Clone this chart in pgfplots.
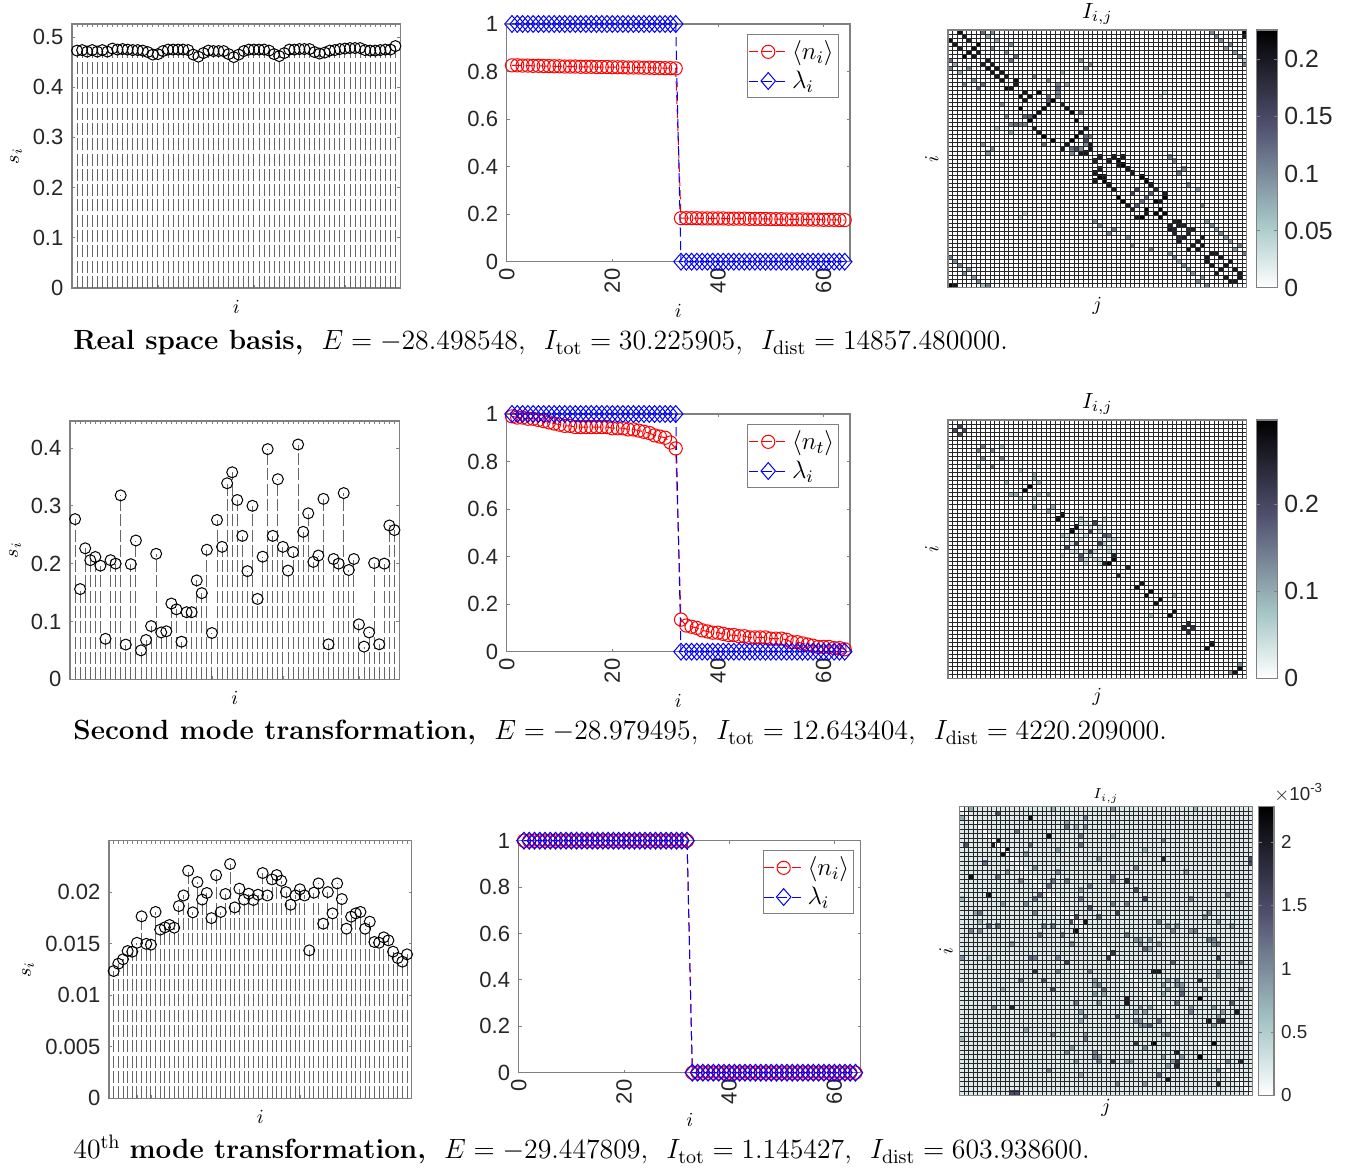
\documentclass[border=0pt]{standalone}
\usepackage{fix-cm}
\usepackage[no-math]{fontspec}
\usepackage{pgfplots}
\usepackage{pgfplotstable}
\pgfplotsset{compat=1.18}
\newfontfamily\hv{Liberation Sans}
\definecolor{axg}{gray}{0.5}
\definecolor{tkl}{gray}{0.15}
\definecolor{stemg}{gray}{0.4}
\pgfplotsset{
 colormap={bonerev}{rgb(0pt)=(1,1,1); rgb(2pt)=(.65,.78,.78); rgb(5pt)=(.32,.32,.44); rgb(8pt)=(0,0,0)},
 base/.style={scale only axis, clip=false, axis line style={axg,line width=.55pt},
   tick align=inside, major tick length=1.5pt, tick style={axg,line width=.4pt},
   tick label style={font=\hv\fontsize{11}{13}\selectfont,text=tkl},
   yticklabel style={xshift=-.8pt},
   scaled y ticks=false,
   label style={font=\fontsize{11}{13}\selectfont}},
 stem/.style={base, xmin=0,xmax=65,ymin=0, xtick={1,...,64}, xticklabels={},
   every axis x label/.style={at={(axis description cs:.5,-.072)},anchor=center},
   xlabel={$i$}, ylabel={$s_i$}},
 stemline/.style={ycomb, stemg, line width=.45pt, dash pattern=on 6pt off 1.65pt,
   mark=o, mark size=2.75pt, mark options={solid,black,line width=.5pt}},
 mid/.style={base, xmin=0,xmax=65,ymin=0,ymax=1, xtick={0,20,40,60}, xticklabels={0,20,40,60},
   ytick={0,.2,.4,.6,.8,1}, yticklabels={0,0.2,0.4,0.6,0.8,1},
   xticklabel style={rotate=90,anchor=east},
   every axis x label/.style={at={(axis description cs:.5,-.205)},anchor=center},
   xlabel={$i$},
   legend image code/.code={\draw[mark repeat=2,mark phase=2,##1] plot coordinates {(0cm,0cm) (.34cm,0cm) (.68cm,0cm)};},
   legend cell align=left,
   legend style={anchor=north west, draw=axg, line width=.5pt, font=\fontsize{12.6}{14}\selectfont, row sep=0pt, inner xsep=.3pt, inner ysep=1.2pt}},
 redl/.style={red, line width=.5pt, dash pattern=on 4.6pt off 2.2pt, mark=o, mark size=3.3pt, mark options={solid,red,line width=.5pt}},
 bluel/.style={blue, line width=.5pt, dash pattern=on 4.6pt off 2.2pt, mark=diamond, mark size=4.2pt, mark options={solid,blue,line width=.5pt,xscale=1.15}},
 heat/.style={scale only axis, clip=true, clip marker paths=true, y dir=reverse, xmin=.5,xmax=64.5,ymin=.5,ymax=64.5,
   axis on top, axis line style={axg,line width=.55pt},
   xtick={0.5,1.5,...,64.5}, ytick={0.5,1.5,...,64.5}, xticklabels={}, yticklabels={},
   major tick length=0pt, grid=major, grid style={black!85,line width=.28pt},
   colormap name=bonerev, point meta=explicit, colorbar,
   label style={font=\fontsize{11}{13}\selectfont},
   xlabel={$j$}, ylabel={$i$}, title={$I_{i,j}$}},
 cbar/.style={colorbar style={scale only axis, y dir=normal, grid=none, axis on top=true, xtick=\empty,
   width=#1, axis line style={axg,line width=.55pt}, tick align=inside, major tick length=1.5pt, ytick style={axg,line width=.4pt},
   yticklabel pos=right}},
 cellmark/.style={scatter, only marks, mark=square*, scatter/use mapped color={draw=mapped color,fill=mapped color}},
}
\pgfplotstableread{
i j v
1 3 .21
2 4 .2
3 5 .19
4 7 .22
5 6 .21
6 7 .2
8 9 .19
9 10 .2
10 11 .2
11 12 .2
12 13 .2
13 15 .21
14 15 .2
16 17 .2
17 18 .2
16 20 .225
18 23 .225
19 22 .21
20 21 .21
19 25 .19
20 26 .2
21 27 .225
23 28 .215
25 30 .19
26 29 .2
27 28 .225
28 30 .15
29 31 .2
30 31 .2
17 22 .12
15 24 .12
27 30 .12
27 31 .1
29 30 .1
17 24 .1
18 22 .13
16 24 .1
14 24 .1
21 29 .12
8 29 .09
9 31 .09
10 30 .09
32 33 .19
32 36 .2
32 38 .2
33 37 .22
34 37 .2
34 38 .225
33 35 .19
35 39 .2
36 40 .2
37 42 .225
38 43 .225
39 44 .2
40 45 .18
41 47 .2
42 47 .225
43 45 .22
45 46 .22
46 47 .22
41 44 .13
42 43 .12
40 41 .15
43 46 .2
48 49 .19
48 50 .2
49 51 .19
50 53 .19
49 50 .19
51 52 .19
52 55 .2
53 54 .19
54 55 .2
50 52 .18
56 57 .2
56 58 .2
57 59 .2
58 61 .2
59 60 .2
60 62 .2
61 63 .2
62 63 .2
1 64 .225
2 64 .2
1 57 .1
2 58 .1
3 59 .1
5 60 .09
4 61 .1
6 62 .09
7 63 .1
9 64 .11
8 64 .06
1 8 .12
1 10 .1
2 9 .08
3 11 .08
4 14 .1
5 10 .1
6 13 .1
7 15 .12
8 14 .12
11 25 .06
12 19 .1
13 22 .1
14 26 .08
32 48 .1
33 49 .1
36 50 .11
35 51 .1
39 52 .1
40 54 .09
44 55 .1
48 56 .09
49 57 .1
51 59 .1
52 60 .09
53 61 .09
55 62 .09
54 63 .1
56 64 .11
50 58 .08
16 47 .04
17 46 .04
}\heatA
\pgfplotstableread{
i j v
2 3 .2
3 4 .2
7 8 .14
8 10 .13
10 12 .14
7 12 .08
13 16 .08
14 19 .09
15 19 .09
16 20 .09
17 18 .28
19 20 .08
19 22 .12
22 23 .1
24 25 .28
27 28 .28
26 32 .2
28 31 .2
31 33 .2
29 34 .17
29 35 .15
25 29 .08
35 36 .29
34 36 .25
37 39 .24
41 42 .27
43 44 .28
45 46 .27
48 49 .27
51 52 .24
52 53 .22
56 57 .27
62 63 .27
61 63 .12
44 49 .08
30 33 .05
30 36 .05
31 34 .06
27 33 .04
28 33 .05
25 34 .05
26 29 .04
28 29 .03
32 33 .05
32 35 .05
33 36 .04
27 31 .04
33 35 .05
30 35 .05
29 30 .05
26 30 .04
}\heatB
\pgfplotstableread{
i j v
3 16 2.1
9 16 1.2
2 9 1.4
8 9 2
7 20 2.1
10 11 2.1
20 18 1.3
26 28 2.1
25 26 1.5
24 35 1.6
33 34 1.7
17 37 1.8
22 37 1.5
37 43 2
37 44 2
32 41 1.3
34 57 1.7
35 47 1.3
39 53 1.7
19 39 1.4
21 41 1.5
43 53 2.25
12 45 1.9
48 55 2
48 58 1.9
46 61 2
53 56 2.25
48 57 1.7
57 62 1.9
12 64 1.5
13 64 1.5
44 60 1.3
42 49 1.3
44 48 1.2
29 23 1.2
18 29 1.3
23 29 1.4
25 31 1.3
29 37 1.3
17 24 1.2
5 24 1
9 27 1.2
7 27 .9
3 28 1.1
6 13 1.2
16 34 1.2
17 34 1.1
22 34 1.1
22 37 1.1
1 34 1
14 39 1.1
8 45 1.1
20 59 1.1
24 55 1
26 57 .9
25 54 .9
26 44 1.1
28 52 1.1
28 47 1
29 37 1.1
32 41 1.2
30 55 1.1
30 56 1.1
31 57 1
21 51 1
5 24 1.2
7 27 1.2
9 16 1.2
11 15 .9
15 22 1
14 17 1
17 21 1.1
17 24 1.1
18 20 1.2
18 29 1.1
27 19 1
27 21 1.1
5 28 1
10 22 .9
29 23 1.1
25 31 1.2
12 31 .9
31 25 1
19 27 1
1 3 .8
1 21 .7
1 52 .7
4 24 .8
5 26 .7
7 34 .7
10 41 .7
15 50 .8
19 27 .8
27 48 .8
28 51 .9
27 60 .8
30 40 .8
31 44 .9
40 45 .9
42 45 .8
39 48 .9
40 49 .9
41 46 .9
40 48 .9
41 49 1
39 46 .9
46 51 1.1
45 51 .9
45 56 .9
46 58 .9
49 56 .9
41 54 1
41 62 .9
59 57 1.1
47 57 .9
35 62 1
31 56 .9
27 46 .9
30 39 .9
31 40 1
32 42 .8
30 42 .9
37 57 .9
38 57 .9
1 1 0
2 2 0
3 3 0
4 4 0
5 5 0
6 6 0
7 7 0
8 8 0
9 9 0
10 10 0
11 11 0
12 12 0
13 13 0
14 14 0
15 15 0
16 16 0
17 17 0
18 18 0
19 19 0
20 20 0
21 21 0
22 22 0
23 23 0
24 24 0
25 25 0
26 26 0
27 27 0
28 28 0
29 29 0
30 30 0
31 31 0
32 32 0
33 33 0
34 34 0
35 35 0
36 36 0
37 37 0
38 38 0
39 39 0
40 40 0
41 41 0
42 42 0
43 43 0
44 44 0
45 45 0
46 46 0
47 47 0
48 48 0
49 49 0
50 50 0
51 51 0
52 52 0
53 53 0
54 54 0
55 55 0
56 56 0
57 57 0
58 58 0
59 59 0
60 60 0
61 61 0
62 62 0
63 63 0
64 64 0
}\heatC
\begin{document}
\begin{tikzpicture}
\useasboundingbox (0,0) rectangle (679.5pt,585.5pt);
% ---------- row 1
\begin{axis}[stem, at={(36pt,441.5pt)}, anchor=south west, width=164.25pt, height=132pt, ymax=.526,
 ytick={0,.1,.2,.3,.4,.5}, yticklabels={0,0.1,0.2,0.3,0.4,0.5},
 every axis y label/.style={at={(axis description cs:-.17,.5)},rotate=90,anchor=center}]
\addplot[stemline] coordinates {(1,.473)(2,.474)(3,.471)(4,.474)(5,.471)(6,.474)(7,.471)(8,.477)(9,.475)(10,.476)(11,.475)(12,.474)(13,.474)(14,.473)(15,.470)(16,.465)(17,.466)(18,.472)(19,.475)(20,.475)(21,.475)(22,.475)(23,.474)(24,.465)(25,.461)(26,.468)(27,.473)(28,.472)(29,.472)(30,.472)(31,.466)(32,.460)(33,.465)(34,.472)(35,.475)(36,.475)(37,.475)(38,.475)(39,.473)(40,.466)(41,.462)(42,.468)(43,.475)(44,.475)(45,.476)(46,.476)(47,.476)(48,.470)(49,.467)(50,.469)(51,.473)(52,.474)(53,.476)(54,.477)(55,.478)(56,.478)(57,.478)(58,.474)(59,.473)(60,.473)(61,.474)(62,.475)(63,.475)(64,.482)};
\end{axis}
\begin{axis}[mid, at={(253.35pt,454.65pt)}, anchor=south west, width=171.65pt, height=118.85pt,
 legend style={at={(.7008,.958)}}]
\addplot[redl] coordinates {(1,.826)(2,.826)(3,.825)(4,.825)(5,.824)(6,.824)(7,.823)(8,.823)(9,.822)(10,.822)(11,.821)(12,.821)(13,.821)(14,.82)(15,.82)(16,.82)(17,.819)(18,.819)(19,.819)(20,.818)(21,.818)(22,.818)(23,.817)(24,.817)(25,.817)(26,.816)(27,.816)(28,.815)(29,.815)(30,.814)(31,.814)(32,.813)(33,.183)(34,.183)(35,.183)(36,.183)(37,.182)(38,.182)(39,.182)(40,.182)(41,.182)(42,.181)(43,.181)(44,.181)(45,.181)(46,.18)(47,.18)(48,.18)(49,.18)(50,.179)(51,.179)(52,.179)(53,.178)(54,.178)(55,.178)(56,.178)(57,.177)(58,.177)(59,.177)(60,.176)(61,.176)(62,.176)(63,.175)(64,.175)};
\addlegendentry{$\langle n_i\rangle$}
\addplot[bluel] coordinates {(1,1)(2,1)(3,1)(4,1)(5,1)(6,1)(7,1)(8,1)(9,1)(10,1)(11,1)(12,1)(13,1)(14,1)(15,1)(16,1)(17,1)(18,1)(19,1)(20,1)(21,1)(22,1)(23,1)(24,1)(25,1)(26,1)(27,1)(28,1)(29,1)(30,1)(31,1)(32,1)(33,0)(34,0)(35,0)(36,0)(37,0)(38,0)(39,0)(40,0)(41,0)(42,0)(43,0)(44,0)(45,0)(46,0)(47,0)(48,0)(49,0)(50,0)(51,0)(52,0)(53,0)(54,0)(55,0)(56,0)(57,0)(58,0)(59,0)(60,0)(61,0)(62,0)(63,0)(64,0)};
\addlegendentry{$\lambda_i$}
\end{axis}
\begin{axis}[heat, cbar=10.3pt, at={(474pt,441.65pt)}, anchor=south west, width=149.35pt, height=128.85pt,
 point meta min=0, point meta max=.2257,
 every axis title/.style={at={(axis description cs:.5,1.062)},anchor=center,font=\fontsize{11}{13}\selectfont},
 every axis x label/.style={at={(axis description cs:.5,-.07)},anchor=center},
 every axis y label/.style={at={(axis description cs:-.054,.5)},rotate=90,anchor=center},
 colorbar style={at={(1.0335,0)},anchor=south west,height=128.85pt,
   ytick={0,.05,.1,.15,.2},yticklabels={0,0.05,0.1,0.15,0.2},
   yticklabel style={font=\hv\fontsize{12.4}{14}\selectfont,text=tkl}}]
\addplot[cellmark, mark size=1.01pt, mark options={xscale=1.16,line width=0pt}] table[x=i,y=j,meta=v] {\heatA};
\addplot[cellmark, mark size=1.01pt, mark options={xscale=1.16,line width=0pt}] table[x=j,y=i,meta=v] {\heatA};
\end{axis}
\node[anchor=base west,inner sep=0pt,font=\fontsize{13.9}{16}\selectfont] at (36.5pt,410.5pt) {\textbf{Real space basis,}\ \ $E=-28.498548$,\ \ $I_{\rm tot}=30.225905$,\ \ $I_{\rm dist}=14857.480000$.};
% ---------- row 2
\begin{axis}[stem, at={(35pt,245.85pt)}, anchor=south west, width=164.75pt, height=129.15pt, ymax=.4467,
 ytick={0,.1,.2,.3,.4}, yticklabels={0,0.1,0.2,0.3,0.4},
 every axis y label/.style={at={(axis description cs:-.167,.5)},rotate=90,anchor=center}]
\addplot[stemline] coordinates {(1,.277)(2,.156)(3,.2265)(4,.206)(5,.2115)(6,.1965)(7,.070)(8,.206)(9,.200)(10,.318)(11,.060)(12,.199)(13,.240)(14,.050)(15,.068)(16,.092)(17,.217)(18,.081)(19,.083)(20,.131)(21,.121)(22,.065)(23,.116)(24,.116)(25,.171)(26,.149)(27,.224)(28,.080)(29,.2755)(30,.229)(31,.339)(32,.358)(33,.310)(34,.248)(35,.187)(36,.300)(37,.139)(38,.212)(39,.398)(40,.248)(41,.346)(42,.229)(43,.188)(44,.220)(45,.406)(46,.255)(47,.287)(48,.203)(49,.214)(50,.312)(51,.0605)(52,.208)(53,.2)(54,.322)(55,.189)(56,.208)(57,.095)(58,.0565)(59,.081)(60,.201)(61,.0605)(62,.2)(63,.266)(64,.258)};
\end{axis}
\begin{axis}[mid, at={(253.35pt,259.65pt)}, anchor=south west, width=171.65pt, height=118.85pt,
 legend style={at={(.7008,.958)}}]
\addplot[redl] coordinates {(1,.99)(2,.985)(3,.985)(4,.98)(5,.98)(6,.975)(7,.97)(8,.965)(9,.96)(10,.955)(11,.95)(12,.95)(13,.945)(14,.945)(15,.945)(16,.945)(17,.945)(18,.945)(19,.945)(20,.94)(21,.94)(22,.94)(23,.935)(24,.935)(25,.93)(26,.925)(27,.92)(28,.91)(29,.905)(30,.90)(31,.88)(32,.855)(33,.135)(34,.11)(35,.105)(36,.10)(37,.09)(38,.085)(39,.08)(40,.08)(41,.075)(42,.07)(43,.07)(44,.065)(45,.065)(46,.06)(47,.06)(48,.06)(49,.06)(50,.055)(51,.055)(52,.055)(53,.05)(54,.04)(55,.04)(56,.035)(57,.03)(58,.025)(59,.02)(60,.02)(61,.02)(62,.015)(63,.015)(64,.01)};
\addlegendentry{$\langle n_t\rangle$}
\addplot[bluel] coordinates {(1,1)(2,1)(3,1)(4,1)(5,1)(6,1)(7,1)(8,1)(9,1)(10,1)(11,1)(12,1)(13,1)(14,1)(15,1)(16,1)(17,1)(18,1)(19,1)(20,1)(21,1)(22,1)(23,1)(24,1)(25,1)(26,1)(27,1)(28,1)(29,1)(30,1)(31,1)(32,1)(33,0)(34,0)(35,0)(36,0)(37,0)(38,0)(39,0)(40,0)(41,0)(42,0)(43,0)(44,0)(45,0)(46,0)(47,0)(48,0)(49,0)(50,0)(51,0)(52,0)(53,0)(54,0)(55,0)(56,0)(57,0)(58,0)(59,0)(60,0)(61,0)(62,0)(63,0)(64,0)};
\addlegendentry{$\lambda_i$}
\end{axis}
\begin{axis}[heat, cbar=10.3pt, at={(474pt,246.35pt)}, anchor=south west, width=149.35pt, height=129.15pt,
 point meta min=0, point meta max=.2964,
 every axis title/.style={at={(axis description cs:.5,1.062)},anchor=center,font=\fontsize{11}{13}\selectfont},
 every axis x label/.style={at={(axis description cs:.5,-.07)},anchor=center},
 every axis y label/.style={at={(axis description cs:-.054,.5)},rotate=90,anchor=center},
 colorbar style={at={(1.0335,0)},anchor=south west,height=129.15pt,
   ytick={0,.1,.2},yticklabels={0,0.1,0.2},
   yticklabel style={font=\hv\fontsize{12.4}{14}\selectfont,text=tkl}}]
\addplot[cellmark, mark size=1.01pt, mark options={xscale=1.16,line width=0pt}] table[x=i,y=j,meta=v] {\heatB};
\addplot[cellmark, mark size=1.01pt, mark options={xscale=1.16,line width=0pt}] table[x=j,y=i,meta=v] {\heatB};
\end{axis}
\node[anchor=base west,inner sep=0pt,font=\fontsize{13.9}{16}\selectfont] at (36.5pt,215.5pt) {\textbf{Second mode transformation,}\ \ $E=-28.979495$,\ \ $I_{\rm tot}=12.643404$,\ \ $I_{\rm dist}=4220.209000$.};
% ---------- row 3
\begin{axis}[stem, at={(54.5pt,36.35pt)}, anchor=south west, width=151.35pt, height=128.8pt, ymax=.02502,
 ytick={0,.005,.01,.015,.02}, yticklabels={0,0.005,0.01,0.015,0.02},
 every axis y label/.style={at={(axis description cs:-.267,.5)},rotate=90,anchor=center}]
\addplot[stemline] coordinates {(1,.01236)(2,.01307)(3,.0135)(4,.0143)(5,.01424)(6,.0151)(7,.01767)(8,.0150)(9,.01492)(10,.0181)(11,.01638)(12,.0166)(13,.01683)(14,.01657)(15,.01867)(16,.0197)(17,.0221)(18,.01806)(19,.0210)(20,.0193)(21,.01994)(22,.0175)(23,.02168)(24,.0181)(25,.01984)(26,.02275)(27,.01854)(28,.02036)(29,.0193)(30,.01987)(31,.01926)(32,.01977)(33,.02188)(34,.0197)(35,.02126)(36,.02168)(37,.02113)(38,.02003)(39,.0188)(40,.0197)(41,.0203)(42,.0197)(43,.01437)(44,.01997)(45,.02087)(46,.01696)(47,.02003)(48,.01796)(49,.02087)(50,.01935)(51,.01647)(52,.01764)(53,.01796)(54,.0181)(55,.01647)(56,.01715)(57,.01518)(58,.01511)(59,.01563)(60,.01534)(61,.01424)(62,.01362)(63,.01327)(64,.01398)};
\end{axis}
\begin{axis}[mid, at={(259.35pt,49.15pt)}, anchor=south west, width=171pt, height=116pt,
 legend style={at={(.7135,.96)}}]
\addplot[redl] coordinates {(1,1)(2,1)(3,1)(4,1)(5,1)(6,1)(7,1)(8,1)(9,1)(10,1)(11,1)(12,1)(13,1)(14,1)(15,1)(16,1)(17,1)(18,1)(19,1)(20,1)(21,1)(22,1)(23,1)(24,1)(25,1)(26,1)(27,1)(28,1)(29,1)(30,1)(31,1)(32,1)(33,0)(34,0)(35,0)(36,0)(37,0)(38,0)(39,0)(40,0)(41,0)(42,0)(43,0)(44,0)(45,0)(46,0)(47,0)(48,0)(49,0)(50,0)(51,0)(52,0)(53,0)(54,0)(55,0)(56,0)(57,0)(58,0)(59,0)(60,0)(61,0)(62,0)(63,0)(64,0)};
\addlegendentry{$\langle n_i\rangle$}
\addplot[bluel] coordinates {(1,1)(2,1)(3,1)(4,1)(5,1)(6,1)(7,1)(8,1)(9,1)(10,1)(11,1)(12,1)(13,1)(14,1)(15,1)(16,1)(17,1)(18,1)(19,1)(20,1)(21,1)(22,1)(23,1)(24,1)(25,1)(26,1)(27,1)(28,1)(29,1)(30,1)(31,1)(32,1)(33,0)(34,0)(35,0)(36,0)(37,0)(38,0)(39,0)(40,0)(41,0)(42,0)(43,0)(44,0)(45,0)(46,0)(47,0)(48,0)(49,0)(50,0)(51,0)(52,0)(53,0)(54,0)(55,0)(56,0)(57,0)(58,0)(59,0)(60,0)(61,0)(62,0)(63,0)(64,0)};
\addlegendentry{$\lambda_i$}
\end{axis}
\begin{axis}[heat, cbar=7.65pt, at={(479.65pt,37.85pt)}, anchor=south west, width=146.7pt, height=144.3pt,
 point meta min=0, point meta max=2.279,
 axis background/.style={fill={rgb,1:red,.87;green,.915;blue,.915}},
 label style={font=\fontsize{7.5}{9}\selectfont},
 every axis title/.style={at={(axis description cs:.5,1.037)},anchor=center,font=\fontsize{7.3}{9}\selectfont},
 every axis x label/.style={at={(axis description cs:.5,-.045)},anchor=center},
 every axis y label/.style={at={(axis description cs:-.045,.5)},rotate=90,anchor=center},
 colorbar style={at={(1.0205,0)},anchor=south west,height=144.3pt,
   ytick={0,.5,1,1.5,2},yticklabels={0,0.5,1,1.5,2},
   yticklabel style={font=\hv\fontsize{9.4}{11}\selectfont,text=tkl}}]
\addplot[cellmark, mark size=1.13pt, mark options={xscale=1.016,line width=0pt}] table[x=i,y=j,meta=v] {\heatC};
\addplot[cellmark, mark size=1.13pt, mark options={xscale=1.016,line width=0pt}] table[x=j,y=i,meta=v] {\heatC};
\end{axis}
\node[anchor=west,inner sep=0pt,text=tkl,font=\hv\fontsize{9.4}{11}\selectfont] at (637pt,189pt) {$\times$10\textsuperscript{-3}};
\node[anchor=base west,inner sep=0pt,font=\fontsize{13.9}{16}\selectfont] at (36.5pt,6pt) {40$^{\rm th}$ \textbf{mode transformation,}\ \ $E=-29.447809$,\ \ $I_{\rm tot}=1.145427$,\ \ $I_{\rm dist}=603.938600$.};
\end{tikzpicture}
\end{document}
